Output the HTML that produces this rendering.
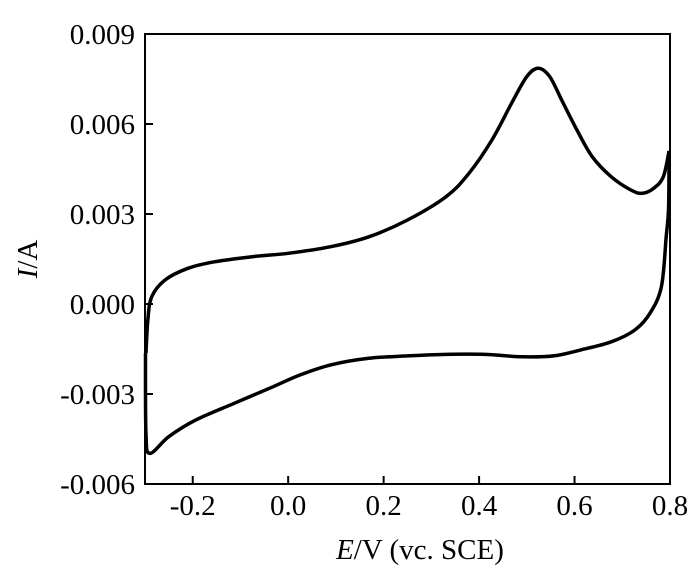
<!DOCTYPE html>
<html><head><meta charset="utf-8"><style>
body{margin:0;background:#fff}
svg{display:block;font-family:"Liberation Serif",serif}
</style></head><body>
<svg id="chart" width="700" height="573" viewBox="0 0 700 573"></svg>
<script>
const xTicks=[-0.2,0.0,0.2,0.4,0.6,0.8];
const xTickLabels=["-0.2","0.0","0.2","0.4","0.6","0.8"];
const yTicks=[0.009,0.006,0.003,0,-0.003,-0.006];
const yTickLabels=["0.009","0.006","0.003","0.000","-0.003","-0.006"];
const anodicE=[-0.298,-0.294,-0.286,-0.258,-0.210,-0.153,-0.073,0,0.089,0.169,0.250,0.331,0.379,0.427,0.468,0.500,0.524,0.548,0.573,0.605,0.637,0.677,0.718,0.742,0.766,0.786,0.798];
const anodicI=[-0.00164,-0.00053,0.00024,0.0008,0.00119,0.00141,0.00158,0.00169,0.00191,0.00224,0.00280,0.00358,0.00436,0.00547,0.00669,0.00758,0.00786,0.00758,0.00680,0.00580,0.00491,0.00424,0.00380,0.00369,0.00386,0.00424,0.00510];
const cathodicE=[0.798,0.797,0.792,0.782,0.758,0.726,0.677,0.613,0.556,0.492,0.411,0.331,0.250,0.169,0.089,0.024,-0.032,-0.113,-0.194,-0.250,-0.290,-0.298,-0.299];
const cathodicI=[0.00510,0.00320,0.00224,0.00058,-0.00031,-0.00087,-0.00126,-0.00153,-0.00173,-0.00176,-0.00168,-0.00168,-0.00173,-0.00181,-0.00203,-0.00237,-0.00276,-0.00331,-0.00387,-0.00442,-0.00498,-0.00431,-0.00164];

const svg=document.getElementById('chart');
const NS='http://www.w3.org/2000/svg';
const L=145,R=670,T=34,B=484;
const X=v=>L+(v+0.3)/1.1*(R-L);
const Y=v=>B-(v+0.006)/0.015*(B-T);
function mk(t,a){const e=document.createElementNS(NS,t);for(const k in a)e.setAttribute(k,a[k]);svg.appendChild(e);return e;}
function smooth(xs,ys){
  const p=xs.map((x,i)=>[X(x),Y(ys[i])]);
  let d='M'+p[0][0]+','+p[0][1];
  for(let i=0;i<p.length-1;i++){
    const p0=p[Math.max(0,i-1)],p1=p[i],p2=p[i+1],p3=p[Math.min(p.length-1,i+2)];
    d+=' C'+(p1[0]+(p2[0]-p0[0])/6)+','+(p1[1]+(p2[1]-p0[1])/6)+' '+(p2[0]-(p3[0]-p1[0])/6)+','+(p2[1]-(p3[1]-p1[1])/6)+' '+p2[0]+','+p2[1];
  }
  return d;
}
const frame=mk('rect',{x:L,y:T,width:R-L,height:B-T,fill:'none',stroke:'#000','stroke-width':2});


xTicks.forEach((v,i)=>{
  const t=mk('line',{x1:X(v),x2:X(v),y1:B,y2:B-8,stroke:'#000','stroke-width':2});
  
  
  const l=mk('text',{x:X(v),y:B+31,'font-size':29,'text-anchor':'middle'});
  l.textContent=xTickLabels[i];
  
  
});
yTicks.forEach((v,i)=>{
  const t=mk('line',{x1:L,x2:L+8,y1:Y(v),y2:Y(v),stroke:'#000','stroke-width':2});
  
  
  const l=mk('text',{x:L-10,y:Y(v)+10,'font-size':29,'text-anchor':'end'});
  l.textContent=yTickLabels[i];
  
  
});
const a=mk('path',{d:smooth(anodicE,anodicI),fill:'none',stroke:'#000','stroke-width':3.5,'stroke-linejoin':'round'});


const c=mk('path',{d:smooth(cathodicE,cathodicI),fill:'none',stroke:'#000','stroke-width':3.5,'stroke-linejoin':'round'});


const xt=mk('text',{x:420,y:559,'font-size':29,'text-anchor':'middle'});
xt.innerHTML='<tspan font-style="italic">E</tspan>/V (vc. SCE)';


const yt=mk('text',{x:0,y:0,'font-size':29,'text-anchor':'middle',transform:'translate(37,259) rotate(-90)'});
yt.innerHTML='<tspan font-style="italic">I</tspan>/A';


</script>
</body></html>
